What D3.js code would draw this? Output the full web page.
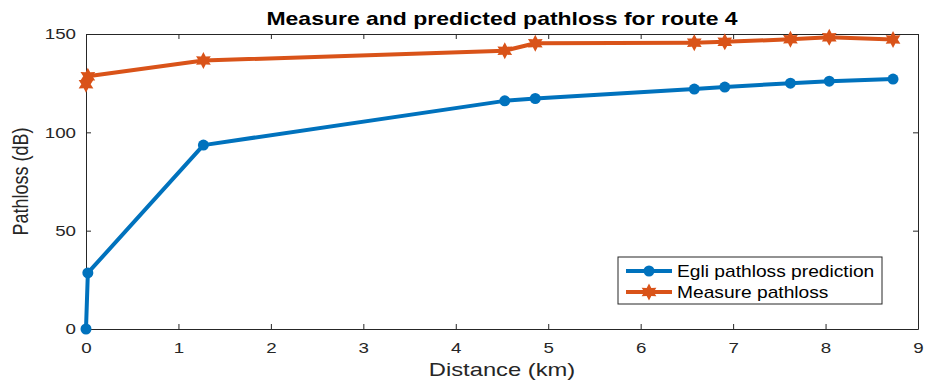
<!DOCTYPE html>
<html>
<head>
<meta charset="utf-8">
<script src="https://cdn.jsdelivr.net/npm/d3@7"></script>
<style>
  html, body { margin: 0; padding: 0; background: #fff; }
  svg { display: block; font-family: "Liberation Sans", Arial, Helvetica, sans-serif; }
</style>
</head>
<body>
<svg id="chart" width="925" height="383"></svg>
<script>
// Route 4 measurements: distance (km) and path loss (dB)
const distance = [0, 0.02, 1.27, 4.53, 4.86, 6.58, 6.91, 7.62, 8.04, 8.73];
const egliPrediction = [0, 28.5, 93.5, 116, 117.2, 122, 123, 125, 126, 127.1];
const measuredLoss = [124.5, 128.5, 136.5, 141.5, 145.3, 145.6, 146, 147.3, 148.3, 147.2];
const xTicks = [0, 1, 2, 3, 4, 5, 6, 7, 8, 9];
const yTicks = [0, 50, 100, 150];
const seriesNames = ["Egli pathloss prediction", "Measure pathloss"];
const seriesColors = ["#0072BD", "#D95319"];

(function draw() {
  const svg = d3.select("#chart");
  const margin = { left: 86, right: 7, top: 34, bottom: 54 };
  const W = 925, H = 383;
  const iw = W - margin.left - margin.right;
  const ih = H - margin.top - margin.bottom;

  const x = d3.scaleLinear().domain([0, 9]).range([margin.left, margin.left + iw]);
  const y = d3.scaleLinear().domain([0, 150]).range([margin.top + ih, margin.top]);

  const axisColor = "#262626";
  const tickLen = 5;
  const sx = 1.25; // text is drawn wide
  const lineW = 4;

  // Axes with inward ticks, mirrored on the top and right edges
  const g = svg.append("g");
  const axBottom = g.append("g").attr("transform", `translate(0,${y(0)})`)
    .call(d3.axisBottom(x).tickValues(xTicks).tickSizeInner(-tickLen).tickSizeOuter(0).tickPadding(13));
  const axTop = g.append("g").attr("transform", `translate(0,${y(150)})`)
    .call(d3.axisTop(x).tickValues(xTicks).tickSizeInner(-tickLen).tickSizeOuter(0).tickFormat(""));
  const axLeft = g.append("g").attr("transform", `translate(${x(0)},0)`)
    .call(d3.axisLeft(y).tickValues(yTicks).tickSizeInner(-tickLen).tickSizeOuter(0).tickPadding(10));
  const axRight = g.append("g").attr("transform", `translate(${x(9)},0)`)
    .call(d3.axisRight(y).tickValues(yTicks).tickSizeInner(-tickLen).tickSizeOuter(0).tickFormat(""));

  [axBottom, axTop, axLeft, axRight].forEach(a => {
    a.select(".domain").attr("stroke", axisColor).attr("stroke-width", 1);
    a.selectAll(".tick line").attr("stroke", axisColor).attr("stroke-width", 1);
    a.selectAll(".tick text").attr("fill", axisColor).style("font-size", "15px")
      .style("font-family", "'Liberation Sans', Arial, sans-serif");
  });
  axBottom.selectAll(".tick text").attr("transform", `scale(${sx},1)`);
  axLeft.selectAll(".tick text").attr("x", -10 / sx).attr("transform", `scale(${sx},1)`);

  // Six-pointed star marker centred at the origin
  function hexagram(r) {
    const pts = [];
    for (let k = 0; k < 12; k++) {
      const a = -Math.PI / 2 + k * Math.PI / 6;
      const rr = k % 2 === 0 ? r : r * 0.55;
      pts.push([rr * Math.cos(a), rr * Math.sin(a)]);
    }
    return "M" + pts.map(p => p.join(",")).join("L") + "Z";
  }

  // Series lines and markers
  const line = d3.line().x(d => x(d[0])).y(d => y(d[1]));
  const egliPts = distance.map((d, i) => [d, egliPrediction[i]]);
  const measPts = distance.map((d, i) => [d, measuredLoss[i]]);

  g.append("path").datum(egliPts).attr("d", line)
    .attr("fill", "none").attr("stroke", seriesColors[0]).attr("stroke-width", lineW)
    .attr("stroke-linejoin", "round");
  g.selectAll(".egli").data(egliPts).join("circle").attr("class", "egli")
    .attr("cx", d => x(d[0])).attr("cy", d => y(d[1])).attr("r", 5.5)
    .attr("fill", seriesColors[0]);

  g.append("path").datum(measPts).attr("d", line)
    .attr("fill", "none").attr("stroke", seriesColors[1]).attr("stroke-width", lineW)
    .attr("stroke-linejoin", "round");
  g.selectAll(".meas").data(measPts).join("path").attr("class", "meas")
    .attr("transform", d => `translate(${x(d[0])},${y(d[1])})`)
    .attr("d", hexagram(8.5)).attr("fill", seriesColors[1]);

  // Title and axis labels
  svg.append("text").attr("transform", `translate(${x(4.5)},25) scale(1.21,1)`)
    .attr("text-anchor", "middle")
    .style("font-size", "19px").style("font-weight", "bold").attr("fill", "#000")
    .text("Measure and predicted pathloss for route 4");
  svg.append("text").attr("transform", `translate(${x(4.5)},376) scale(${sx},1)`)
    .attr("text-anchor", "middle")
    .style("font-size", "19px").attr("fill", axisColor).text("Distance (km)");
  svg.append("text").attr("transform", `translate(28,${y(75)}) scale(${sx},1) rotate(-90)`)
    .attr("text-anchor", "middle").style("font-size", "18px").attr("fill", axisColor)
    .text("Pathloss (dB)");

  // Legend
  const lg = svg.append("g").attr("transform", "translate(618,257)");
  lg.append("rect").attr("width", 264).attr("height", 47)
    .attr("fill", "#fff").attr("stroke", axisColor).attr("stroke-width", 1);
  seriesNames.forEach((name, i) => {
    const yy = 14 + i * 21;
    lg.append("line").attr("x1", 8).attr("x2", 54).attr("y1", yy).attr("y2", yy)
      .attr("stroke", seriesColors[i]).attr("stroke-width", lineW);
    if (i === 0) {
      lg.append("circle").attr("cx", 31).attr("cy", yy).attr("r", 5.5).attr("fill", seriesColors[i]);
    } else {
      lg.append("path").attr("transform", `translate(31,${yy})`).attr("d", hexagram(8.5)).attr("fill", seriesColors[i]);
    }
    lg.append("text").attr("transform", `translate(59,${yy}) scale(1.2,1)`).attr("dy", "0.35em")
      .style("font-size", "16px").attr("fill", "#000").text(name);
  });
})();
</script>
</body>
</html>
